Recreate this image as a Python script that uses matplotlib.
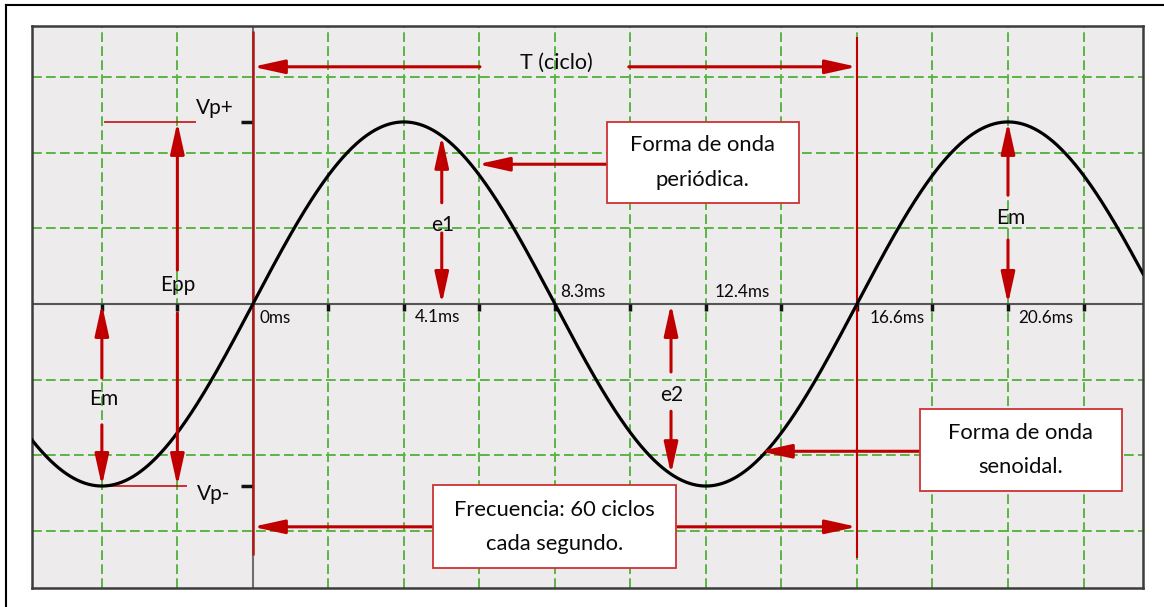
import numpy as np
import matplotlib.pyplot as plt
from matplotlib.patches import Rectangle
from matplotlib.lines import Line2D

plt.rcParams['font.family'] = ['Lato', 'DejaVu Sans']

# onda senoidal de 60 Hz
periodo_ms = 16.6
amplitud = 2.41          # en divisiones de la cuadricula
t_inicio, t_fin = -6.07, 24.46
div_t = periodo_ms / 8   # 2.075 ms por division

# etiquetas de tiempo sobre el eje (texto, t, y)
etiquetas_ms = ['0ms', '4.1ms', '8.3ms', '12.4ms', '16.6ms', '20.6ms']
etiquetas_t = [0.19, 5.08, 9.07, 13.44, 17.70, 21.79]
etiquetas_y = [-0.185, -0.17, 0.16, 0.16, -0.185, -0.185]

# instantes donde se miden e1, e2 y Em
t_e1, t_e2 = 5.19, 11.49
t_em_izq, t_em_der, t_epp = -periodo_ms / 4, periodo_ms * 1.25, -div_t

rojo = '#C00000'
verde = '#5BB544'

t = np.linspace(t_inicio, t_fin, 1200)
v = amplitud * np.sin(2 * np.pi * t / periodo_ms)


def onda(x):
    return amplitud * np.sin(2 * np.pi * x / periodo_ms)


fig = plt.figure(figsize=(11.64, 6.07), dpi=100)
ax = fig.add_axes([32 / 1164, 1 - 588 / 607, 1111 / 1164, 562 / 607])
ax.set_facecolor('#EDEBEC')
ax.set_xlim(t_inicio, t_fin)
ax.set_ylim(-3.76, 3.68)

ax.set_xticks(np.arange(-2, 12) * div_t)
ax.set_yticks(np.arange(-3, 4))
ax.tick_params(length=0, labelbottom=False, labelleft=False)
ax.grid(True, color=verde, ls=(0, (5, 2.2)), lw=1.4)
for s in ax.spines.values():
    s.set_color('#3C3C3C')
    s.set_linewidth(1.8)

# ejes
ax.axhline(0, color='#555555', lw=1.5, zorder=2)
ax.axvline(0, color='#6E6E6E', lw=1.5, zorder=2)
marcas = [k * div_t for k in range(-2, 12) if k != 0]
ax.vlines(marcas, -0.09, 0, color='#111111', lw=2.5, zorder=3)
ax.hlines([amplitud, -amplitud], -0.32, 0, color='#111111', lw=2.5, zorder=3)

# lineas rojas de un ciclo
ax.vlines(0, -3.32, 3.62, color='#B01818', lw=1.8, zorder=3)
ax.vlines(periodo_ms, -3.36, 3.54, color=rojo, lw=1.5, zorder=3)

ax.plot(t, v, color='black', lw=2.3, zorder=4)


def flecha(x0, y0, x1, y1):
    ax.annotate('', xy=(x1, y1), xytext=(x0, y0), zorder=5,
                arrowprops=dict(arrowstyle='-|>,head_length=1.9,head_width=0.42',
                                color=rojo, lw=2.2, shrinkA=0, shrinkB=0,
                                mutation_scale=10))


def texto(x, y, s, size=15, ha='center'):
    ax.text(x, y, s, ha=ha, va='center', fontsize=size, color='#0A0A0A', zorder=6)


# Vp+, Vp-, Epp
ax.hlines(amplitud, -4.09, -1.57, color=rojo, lw=1.1, zorder=3)
ax.hlines(-amplitud, -4.04, -1.81, color=rojo, lw=1.1, zorder=3)
texto(-1.57, 2.60, 'Vp+', ha='left')
texto(-1.54, -2.52, 'Vp-', ha='left')
flecha(t_epp, 0.45, t_epp, amplitud)
flecha(t_epp, -0.12, t_epp, -amplitud)
texto(t_epp, 0.25, 'Epp')

# Em izquierda
flecha(t_em_izq, -0.98, t_em_izq, 0)
flecha(t_em_izq, -1.60, t_em_izq, -amplitud)
texto(t_em_izq + 0.06, -1.26, 'Em')

# e1
flecha(t_e1, 1.34, t_e1, onda(t_e1))
flecha(t_e1, 0.94, t_e1, 0)
texto(t_e1 + 0.03, 1.05, 'e1')

# e2
flecha(t_e2, -0.90, t_e2, 0)
flecha(t_e2, -1.42, t_e2, onda(t_e2))
texto(t_e2 + 0.03, -1.20, 'e2')

# Em derecha
flecha(t_em_der, 1.44, t_em_der, amplitud)
flecha(t_em_der, 0.85, t_em_der, 0)
texto(t_em_der + 0.08, 1.14, 'Em')

# T (ciclo)
flecha(6.24, 3.14, 0, 3.14)
flecha(10.33, 3.14, periodo_ms, 3.14)
texto(8.33, 3.19, 'T (ciclo)', size=15.5)

# etiquetas de tiempo
for s, x, y in zip(etiquetas_ms, etiquetas_t, etiquetas_y):
    texto(x, y, s, size=12.3, ha='left' if s == '0ms' else 'center')


def caja(x0, x1, y0, y1, s):
    ax.add_patch(Rectangle((x0, y0), x1 - x0, y1 - y0, facecolor='white',
                           edgecolor='#CC3333', lw=1.3, zorder=6))
    ax.text((x0 + x1) / 2, (y0 + y1) / 2, s, ha='center', va='center',
            fontsize=15.8, linespacing=1.9, color='#0A0A0A', zorder=7)


caja(9.73, 15.0, 1.34, 2.41, 'Forma de onda\nperiódica.')
flecha(9.73, 1.85, 6.18, 1.85)

caja(18.33, 23.88, -2.48, -1.39, 'Forma de onda\nsenoidal.')
flecha(18.33, -1.95, 13.93, -1.95)

caja(4.95, 11.62, -3.50, -2.40, 'Frecuencia: 60 ciclos\ncada segundo.')
flecha(4.95, -2.95, 0, -2.95)
flecha(11.62, -2.95, periodo_ms, -2.95)

# marco exterior
fig.add_artist(Line2D([6 / 1164, 1], [1 - 5 / 607] * 2, color='black', lw=1.5))
fig.add_artist(Line2D([6 / 1164] * 2, [0, 1 - 5 / 607], color='black', lw=1.5))

fig.savefig('out.png', dpi=100)
